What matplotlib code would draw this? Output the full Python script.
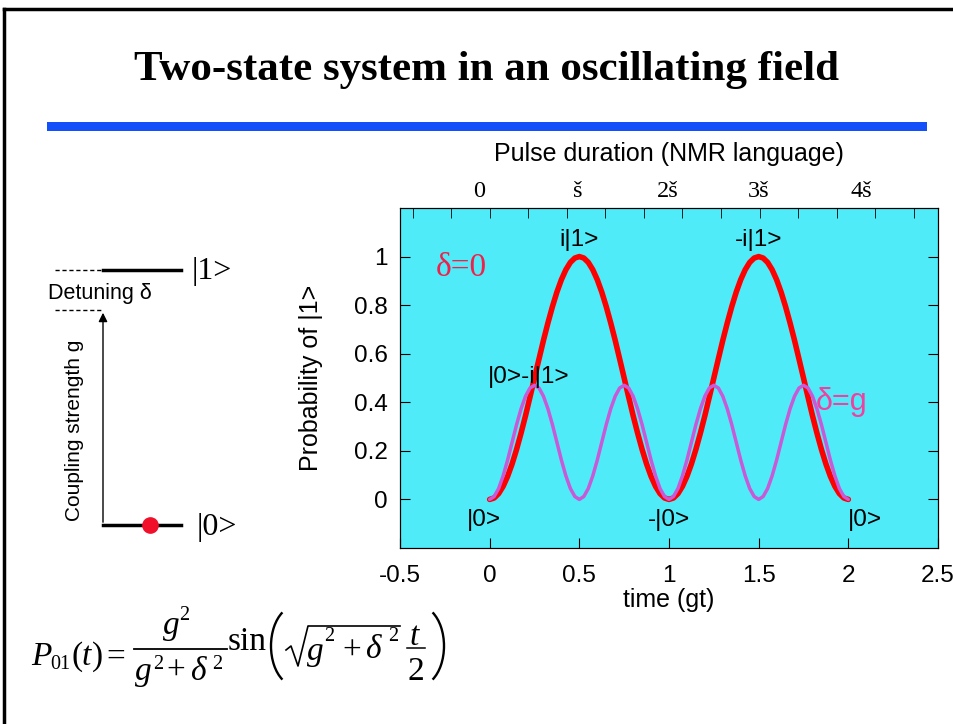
import numpy as np
import matplotlib.pyplot as plt
from matplotlib.lines import Line2D
from matplotlib.patches import Rectangle, FancyArrowPatch, Arc
from matplotlib.transforms import Affine2D

plt.rcParams.update({
    "font.family": "sans-serif",
    "font.sans-serif": ["Liberation Sans", "DejaVu Sans"],
})

# curve samples (t in units of gt, step 0.025)
t_vals = [i * 0.025 for i in range(81)]
p_resonant = [0.000, 0.006, 0.024, 0.054, 0.095, 0.146, 0.206, 0.273, 0.345, 0.422,
              0.500, 0.578, 0.655, 0.727, 0.794, 0.854, 0.905, 0.946, 0.976, 0.994,
              1.000, 0.994, 0.976, 0.946, 0.905, 0.854, 0.794, 0.727, 0.655, 0.578,
              0.500, 0.422, 0.345, 0.273, 0.206, 0.146, 0.095, 0.054, 0.024, 0.006,
              0.000, 0.006, 0.024, 0.054, 0.095, 0.146, 0.206, 0.273, 0.345, 0.422,
              0.500, 0.578, 0.655, 0.727, 0.794, 0.854, 0.905, 0.946, 0.976, 0.994,
              1.000, 0.994, 0.976, 0.946, 0.905, 0.854, 0.794, 0.727, 0.655, 0.578,
              0.500, 0.422, 0.345, 0.273, 0.206, 0.146, 0.095, 0.054, 0.024, 0.006,
              0.000]
p_detuned = [0.000, 0.012, 0.045, 0.097, 0.162, 0.235, 0.308, 0.373, 0.425, 0.459,
             0.470, 0.459, 0.425, 0.373, 0.308, 0.235, 0.162, 0.097, 0.045, 0.012,
             0.000, 0.012, 0.045, 0.097, 0.162, 0.235, 0.308, 0.373, 0.425, 0.459,
             0.470, 0.459, 0.425, 0.373, 0.308, 0.235, 0.162, 0.097, 0.045, 0.012,
             0.000, 0.012, 0.045, 0.097, 0.162, 0.235, 0.308, 0.373, 0.425, 0.459,
             0.470, 0.459, 0.425, 0.373, 0.308, 0.235, 0.162, 0.097, 0.045, 0.012,
             0.000, 0.012, 0.045, 0.097, 0.162, 0.235, 0.308, 0.373, 0.425, 0.459,
             0.470, 0.459, 0.425, 0.373, 0.308, 0.235, 0.162, 0.097, 0.045, 0.012,
             0.000]

x_ticks = [-0.5, 0, 0.5, 1, 1.5, 2, 2.5]
y_ticks = [0, 0.2, 0.4, 0.6, 0.8, 1]
top_pos = [-0.06, 0.49, 0.99, 1.5, 2.07]
top_labels = ["0", "š", "2š", "3š", "4š"]
top_minor = [-0.43, -0.215, 0.0, 0.215, 0.43, 0.645, 0.86, 1.075, 1.29,
             1.505, 1.72, 1.935, 2.15, 2.365]

W, H = 954, 724
fig = plt.figure(figsize=(W / 100, H / 100), dpi=100)
px_tr = Affine2D().scale(1 / W, 1 / H) + fig.transFigure


def fx(px):
    return px / W


def fy(py):
    return 1 - py / H


def serif(x, y, s, size, italic=False):
    # one piece of the formula, placed by its left edge and baseline (pixels)
    fig.text(fx(x), fy(y), s, ha="left", va="baseline",
             family="Liberation Serif", fontsize=size,
             style="italic" if italic else "normal")


def paren(cx, cy, rx, ry, left=True):
    if left:
        a1, a2 = 112, 248
    else:
        a1, a2 = -68, 68
    fig.add_artist(Arc((cx, H - cy), 2 * rx, 2 * ry, theta1=a1, theta2=a2,
                       transform=px_tr, color="black", lw=1.7))


def seg(xs, ys, lw=1.3):
    fig.add_artist(Line2D([fx(v) for v in xs], [fy(v) for v in ys],
                          color="black", lw=lw))


# slide frame, title and blue bar
fig.add_artist(Line2D([fx(4), fx(4)], [fy(9), fy(724)], color="black", lw=2.5))
fig.add_artist(Line2D([fx(4), fx(954)], [fy(9), fy(9)], color="black", lw=2.5))
fig.text(fx(487), fy(70), "Two-state system in an oscillating field",
         ha="center", va="center", family="Liberation Serif",
         fontweight="bold", fontsize=31)
fig.add_artist(Rectangle((fx(47), fy(131)), fx(880), 9 / H,
                         color="#1450FA", lw=0))

# main plot
ax = fig.add_axes([fx(400), fy(548), fx(538), 340 / H])
ax.set_facecolor("#50EBF9")
ax.plot(t_vals, p_resonant, color="#FF0000", lw=4, solid_capstyle="round")
ax.plot(t_vals, p_detuned, color="#C85AD8", lw=2.5, solid_capstyle="round")
ax.set_xlim(-0.5, 2.5)
ax.set_ylim(-0.2, 1.2)
ax.set_xticks(x_ticks)
ax.set_xticklabels(["-0.5", "0", "0.5", "1", "1.5", "2", "2.5"])
ax.set_yticks(y_ticks)
ax.set_yticklabels(["0", "0.2", "0.4", "0.6", "0.8", "1"])
ax.tick_params(direction="in", length=7, labelsize=17.5, right=True, pad=9)
ax.tick_params(axis="x", pad=12)
ax.set_xlabel("time (gt)", fontsize=18, labelpad=1)
ax.set_ylabel("Probability of |1>", fontsize=18, labelpad=22)

top = ax.twiny()
top.set_xlim(ax.get_xlim())
top.set_xticks(top_pos)
top.set_xticklabels(top_labels, family="Liberation Serif", fontsize=17.5)
top.tick_params(length=0, pad=4)
top.set_xticks(top_minor, minor=True)
top.tick_params(which="minor", direction="in", length=7)
top.set_xlabel("Pulse duration (NMR language)", fontsize=18, labelpad=15)

ax.text(0.5, 1.07, "i|1>", ha="center", va="center", fontsize=17.5)
ax.text(1.5, 1.07, "-i|1>", ha="center", va="center", fontsize=17.5)
ax.text(0.22, 0.505, "|0>-i|1>", ha="center", va="center", fontsize=17.5)
ax.text(-0.03, -0.085, "|0>", ha="center", va="center", fontsize=17.5)
ax.text(1.0, -0.085, "-|0>", ha="center", va="center", fontsize=17.5)
ax.text(2.09, -0.085, "|0>", ha="center", va="center", fontsize=17.5)
ax.text(-0.16, 0.955, "δ=0", ha="center", va="center", color="#F0204A",
        family="Liberation Serif", fontsize=24)
ax.text(1.96, 0.40, "δ=g", ha="center", va="center", color="#F040A0",
        fontsize=22)

# energy level diagram
fig.add_artist(Line2D([fx(103), fx(181)], [fy(270), fy(270)], color="black", lw=2.5))
fig.add_artist(Line2D([fx(55), fx(103)], [fy(270), fy(270)], color="black",
                      lw=1, ls=(0, (3, 2))))
fig.add_artist(Line2D([fx(55), fx(103)], [fy(310), fy(310)], color="black",
                      lw=1, ls=(0, (3, 2))))
fig.add_artist(Line2D([fx(103), fx(181)], [fy(525), fy(525)], color="black", lw=2.5))
fig.add_artist(FancyArrowPatch((fx(103), fy(525)), (fx(103), fy(310)),
                               transform=fig.transFigure, arrowstyle="-|>",
                               mutation_scale=13, color="black", lw=1))
fig.add_artist(Line2D([fx(150)], [fy(525)], marker="o", markersize=11,
                      color="#F0102A", ls="none"))
fig.text(fx(100), fy(293), "Detuning δ", ha="center", va="center", fontsize=15.5)
fig.text(fx(74), fy(430), "Coupling strength g", ha="center", va="center",
         rotation=90, fontsize=15)
fig.text(fx(192), fy(272), "|1>", ha="left", va="center",
         family="Liberation Serif", fontsize=23)
fig.text(fx(197), fy(528), "|0>", ha="left", va="center",
         family="Liberation Serif", fontsize=23)

# formula P01(t) = g^2/(g^2+d^2) sin( sqrt(g^2+d^2) t/2 ), set piece by piece
serif(31, 665, "P", 24, italic=True)
serif(50, 669, "01", 14.5)
serif(72, 665, "(", 24)
serif(82, 665, "t", 24, italic=True)
serif(92, 665, ")", 24)
serif(106, 666, "=", 24)
serif(163, 634, "g", 24, italic=True)
serif(179, 620, "2", 14.5)
seg([134, 227], [649, 649])
serif(135, 680, "g", 24, italic=True)
serif(153, 669, "2", 14.5)
serif(166, 680, "+", 24)
serif(190, 680, "δ", 24, italic=True)
serif(212, 669, "2", 14.5)
serif(228, 650, "sin", 24)
paren(296, 646, 25, 40, left=True)
seg([286, 291, 298, 308, 400], [650, 646, 666, 626, 626], lw=1.2)
serif(307, 660, "g", 24, italic=True)
serif(324, 641, "2", 14.5)
serif(342, 660, "+", 24)
serif(365, 658, "δ", 24, italic=True)
serif(388, 641, "2", 14.5)
serif(410, 645, "t", 24, italic=True)
seg([407, 425], [648, 648], lw=1.1)
serif(408, 680, "2", 24)
paren(419, 646, 25, 40, left=False)

fig.savefig("out.png", dpi=100)
